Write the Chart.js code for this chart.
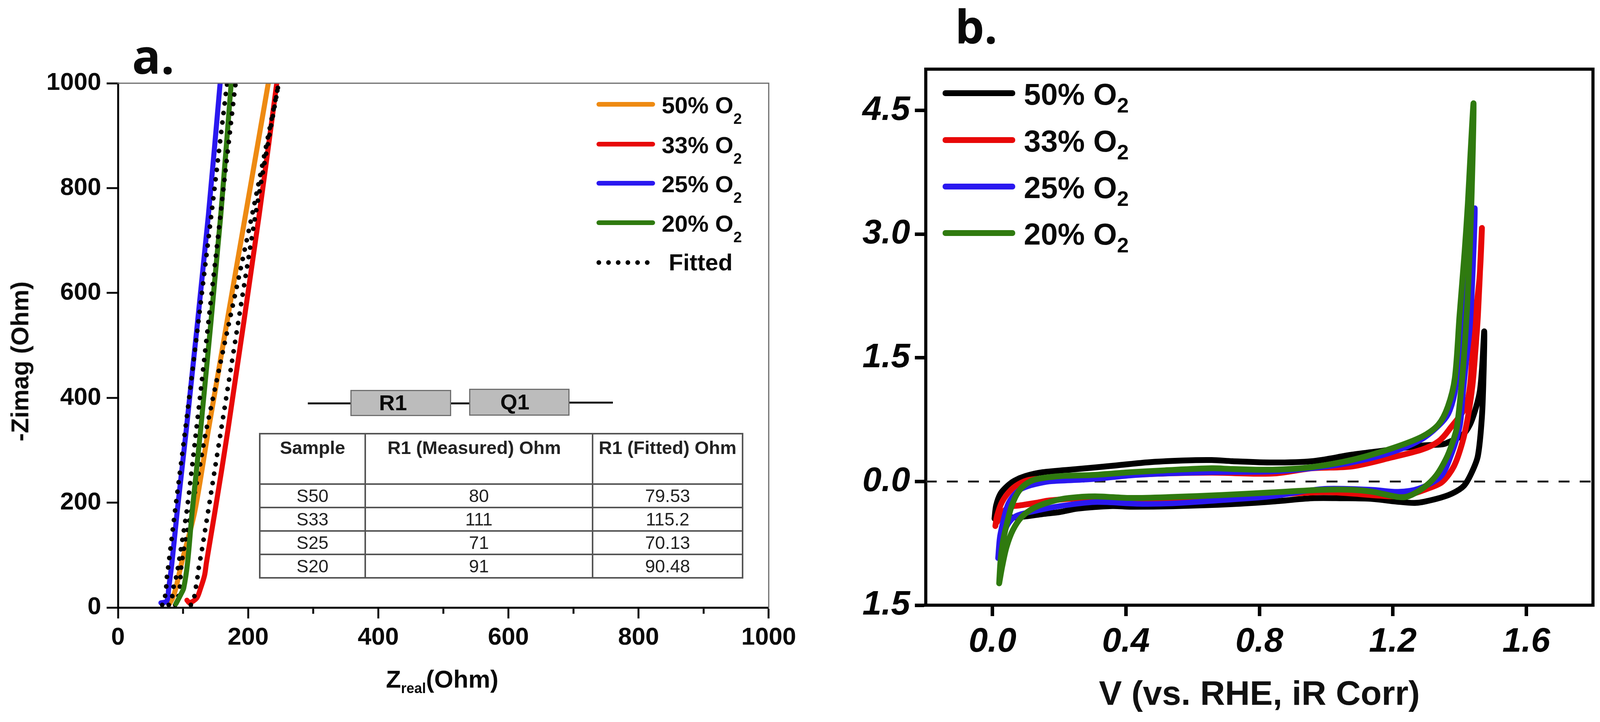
<!DOCTYPE html>
<html><head><meta charset="utf-8">
<style>
html,body{margin:0;padding:0;background:#fff;width:4099px;height:1848px;overflow:hidden;font-family:"Liberation Sans",Arial,sans-serif;color:#0a0a0a}
canvas{position:absolute;top:0}
.t{position:absolute;white-space:nowrap;line-height:1;font-weight:700;transform:translateY(-50%)}
.c{transform:translate(-50%,-50%)}
.t sub{line-height:0;vertical-align:baseline;position:relative}
.ln{position:absolute}
.box{position:absolute;background:#bcbcbc;border:3px solid #6f6f6f;box-sizing:border-box}
table{position:absolute;left:663px;top:1108px;width:1236px;border-collapse:collapse;table-layout:fixed;font-size:46px;color:#222}
td{border:4px solid #555;text-align:center;padding:0;overflow:visible;white-space:nowrap}
th{border:4px solid #555;padding:6px 0 0 0;vertical-align:top;font-size:47px;font-weight:700;white-space:nowrap;overflow:visible}
th span{position:relative}
</style>
<script src="https://cdn.jsdelivr.net/npm/chart.js@4"></script>
</head><body>
<canvas id="ca" width="2050" height="1848" style="left:0"></canvas>
<canvas id="cb" width="2049" height="1848" style="left:2050px"></canvas>
<div id="ov"></div>
<script>
// ---------- panel a : Nyquist data (Zreal, -Zimag) ----------
const orangeX=[79,84,89,98,118,139,196,231,232];
const orangeY=[7,18,37,86,183,339,749,1000,1010];
const redX=[106,110,121,127,133,136,149,169,217,244,245];
const redY=[14,9,18,37,61,86,183,339,749,1000,1010];
const blueX=[66,75,78,83,91,105,139,157,158];
const blueY=[9,12,37,86,183,339,749,1000,1010];
const greenX=[89,97,101,107,114,127,158,174,175];
const greenY=[7,26,37,86,183,339,749,1000,1010];
const orangeFitX=[88,92.5,95,96,97,101,124,135,207,246,247];
const orangeFitY=[5,19,37,56,75,110,257,335,754,993,1000];
const redFitX=[112,117,119.5,122,124,129,139,148,158,212,246,247];
const redFitY=[5,19,37,56,75,110,187,257,335,754,993,1000];
const blueFitX=[68,72,74,75,77,88,103,144,167,168];
const blueFitY=[5,19,37,56,75,187,335,754,993,1000];
const greenFitX=[78,83,85,89,92,106,120,158,180,181];
const greenFitY=[5,19,37,56,75,187,335,754,993,1000];
const xTicksA=[0,100,200,300,400,500,600,700,800,900,1000];
const xLabelledA=[0,200,400,600,800,1000];
const yTicksA=[0,200,400,600,800,1000];
// table
const tableHead=["Sample","R1 (Measured) Ohm","R1 (Fitted) Ohm"];
const tableSample=["S50","S33","S25","S20"];
const tableMeasured=["80","111","71","91"];
const tableFitted=["79.53","115.2","70.13","90.48"];
// ---------- panel b : CV data (V, current) ----------
const blackV=[0.006,0.011,0.024,0.045,0.066,0.098,0.150,0.255,0.359,0.464,0.569,0.657,0.719,0.839,0.958,1.078,1.168,1.288,1.348,1.365,1.408,1.431,1.449,1.461,1.468,1.474,1.472,1.467,1.455,1.436,1.413,1.377,1.33,1.27,1.21,1.138,1.048,0.958,0.839,0.719,0.54,0.412,0.359,0.255,0.202,0.150,0.098,0.05,0.01];
const blackI=[-0.45,-0.29,-0.147,-0.053,0.01,0.065,0.112,0.151,0.19,0.232,0.254,0.26,0.246,0.23,0.246,0.325,0.372,0.435,0.45,0.473,0.56,0.688,0.893,1.097,1.4,1.82,1.3,0.78,0.31,0.104,-0.053,-0.147,-0.211,-0.259,-0.243,-0.211,-0.203,-0.203,-0.243,-0.274,-0.3,-0.306,-0.298,-0.329,-0.37,-0.395,-0.424,-0.44,-0.46];
const redV=[0.0086,0.0138,0.029,0.056,0.087,0.118,0.255,0.412,0.516,0.657,0.839,0.958,1.078,1.198,1.288,1.336,1.368,1.423,1.443,1.46,1.467,1.455,1.447,1.439,1.425,1.408,1.383,1.348,1.306,1.246,1.198,1.0,0.8,0.5,0.3,0.17,0.13,0.082,0.05,0.03,0.012];
const redI=[-0.54,-0.416,-0.245,-0.1,-0.013,0.025,0.056,0.08,0.097,0.107,0.096,0.16,0.183,0.293,0.388,0.483,0.624,0.96,1.86,2.47,3.07,2.01,1.56,1.178,0.78,0.467,0.183,-0.006,-0.085,-0.164,-0.18,-0.13,-0.17,-0.22,-0.2,-0.23,-0.26,-0.29,-0.31,-0.38,-0.5];
const blueV=[0.0165,0.0217,0.032,0.045,0.061,0.082,0.108,0.14,0.176,0.291,0.412,0.516,0.657,0.839,0.958,1.078,1.198,1.288,1.348,1.371,1.389,1.405,1.42,1.435,1.446,1.439,1.431,1.42,1.41,1.401,1.374,1.343,1.278,1.216,1.138,0.988,0.839,0.689,0.54,0.4375,0.307,0.202,0.124,0.071,0.045,0.03,0.0165];
const blueI=[-0.93,-0.68,-0.479,-0.29,-0.18,-0.1,-0.055,-0.022,0.002,0.025,0.072,0.095,0.112,0.12,0.16,0.231,0.355,0.515,0.719,0.861,1.15,1.8,2.5,3.0,3.31,2.47,1.86,1.45,1.05,0.67,0.31,0.057,-0.085,-0.124,-0.1,-0.09,-0.18,-0.227,-0.266,-0.272,-0.25,-0.298,-0.361,-0.417,-0.526,-0.7,-0.93];
const greenV=[0.02,0.0243,0.032,0.045,0.058,0.0765,0.098,0.129,0.202,0.307,0.412,0.516,0.657,0.719,0.839,0.958,1.078,1.198,1.288,1.336,1.365,1.386,1.40,1.415,1.425,1.433,1.442,1.435,1.427,1.419,1.408,1.392,1.377,1.36,1.33,1.294,1.246,1.216,1.138,1.078,0.988,0.839,0.689,0.54,0.412,0.307,0.2285,0.176,0.124,0.087,0.061,0.042,0.029,0.02];
const greenI=[-1.235,-0.953,-0.716,-0.479,-0.29,-0.132,-0.038,0.025,0.065,0.08,0.112,0.135,0.16,0.151,0.143,0.175,0.262,0.403,0.545,0.687,0.908,1.255,2.01,2.77,3.37,3.98,4.58,3.31,2.47,1.86,1.26,0.657,0.45,0.278,0.072,-0.07,-0.18,-0.188,-0.124,-0.101,-0.101,-0.132,-0.164,-0.188,-0.2,-0.18,-0.2,-0.243,-0.322,-0.432,-0.59,-0.795,-1.03,-1.235];
const zeroV=[-0.2,1.8];
const zeroI=[0,0];
const xTicksB=[0,0.4,0.8,1.2,1.6];
const yTicksB=[-1.5,0,1.5,3,4.5];
const legendNames=["50% O","33% O","25% O","20% O"];

const ORANGE="#ee8a12",RED="#e80808",BLUE="#2a18f0",GREEN="#2f7a0f",BLACK="#000";
const pts=(xs,ys)=>xs.map((x,i)=>({x,y:ys[i]}));
const FONT='"Liberation Sans", Arial, sans-serif';

// frame plugin: draws the sides Chart.js scales don't, from the chart area
const frame={id:'frame',afterDraw(c,_,o){const a=c.chartArea,g=c.ctx;g.save();g.strokeStyle=o.color;g.lineWidth=o.width;g.lineCap='square';
 g.beginPath();g.moveTo(a.left,a.top);g.lineTo(a.right,a.top);g.lineTo(a.right,a.bottom);g.stroke();
 if(o.minor){const s=c.scales.x;g.strokeStyle='#111';g.lineWidth=5;g.lineCap='butt';
  o.minor.forEach(v=>{const p=s.getPixelForValue(v);g.beginPath();g.moveTo(p,a.bottom);g.lineTo(p,a.bottom+o.minorLen);g.stroke();});}
 g.restore();}};
const fixTicks=list=>s=>{s.ticks=list.map(v=>({value:v}));};

function solid(data,color,w,n){return {data,borderColor:color,borderWidth:w,pointRadius:0,showLine:true,order:n,borderCapStyle:'round',borderJoinStyle:'round',tension:0.3};}
function dotted(data,n){return {data,borderColor:'#000',borderWidth:12,pointRadius:0,showLine:true,order:n,borderCapStyle:'round',borderDash:[0.01,24.4],tension:0.2};}

new Chart(document.getElementById('ca'),{type:'scatter',plugins:[frame],
 data:{datasets:[
  solid(pts(orangeX,orangeY),ORANGE,13,8),
  solid(pts(redX,redY),RED,13,7),
  dotted(pts(orangeFitX,orangeFitY),6),
  dotted(pts(redFitX,redFitY),5),
  solid(pts(blueX,blueY),BLUE,13,4),
  dotted(pts(blueFitX,blueFitY),3),
  solid(pts(greenX,greenY),GREEN,13,2),
  dotted(pts(greenFitX,greenFitY),1)
 ]},
 options:{responsive:false,animation:false,devicePixelRatio:1,
  layout:{padding:{top:213,right:82,left:0,bottom:0}},
  plugins:{legend:{display:false},tooltip:{enabled:false},frame:{color:'#6b6b6b',width:3,minor:xTicksA.filter(v=>!xLabelledA.includes(v)),minorLen:16}},
  scales:{
   x:{type:'linear',min:0,max:1000,afterFit:s=>{s.height=293;},afterBuildTicks:fixTicks(xLabelledA),
    border:{display:true,color:'#000',width:5},
    grid:{drawOnChartArea:false,tickLength:28,tickWidth:5,tickColor:'#111'},
    ticks:{maxRotation:0,autoSkip:false,color:'#0a0a0a',padding:12,callback:v=>String(v),font:{family:FONT,size:63,weight:'bold'}}},
   y:{type:'linear',min:0,max:1000,afterFit:s=>{s.width=302;},afterBuildTicks:fixTicks(yTicksA),
    border:{display:true,color:'#000',width:5},
    grid:{drawOnChartArea:false,tickLength:29,tickWidth:5,tickColor:'#111'},
    ticks:{autoSkip:false,color:'#0a0a0a',padding:14,callback:v=>String(v),font:{family:FONT,size:63,weight:'bold'}}}
  }}});

new Chart(document.getElementById('cb'),{type:'scatter',plugins:[frame],
 data:{datasets:[
  {data:pts(zeroV,zeroI),borderColor:'#222',borderWidth:5,pointRadius:0,showLine:true,order:5,borderDash:[28,26]},
  solid(pts(blackV,blackI),BLACK,15,4),
  solid(pts(redV,redI),RED,15,3),
  solid(pts(blueV,blueI),BLUE,14,2),
  solid(pts(greenV,greenI),GREEN,15,1)
 ]},
 options:{responsive:false,animation:false,devicePixelRatio:1,
  layout:{padding:{top:177,right:21,left:0,bottom:0}},
  plugins:{legend:{display:false},tooltip:{enabled:false},frame:{color:'#000',width:8}},
  scales:{
   x:{type:'linear',min:-0.2,max:1.8,afterFit:s=>{s.height=299;},afterBuildTicks:fixTicks(xTicksB),
    border:{display:true,color:'#000',width:8},
    grid:{drawOnChartArea:false,tickLength:28,tickWidth:9,tickColor:'#000'},
    title:{display:true,text:'V (vs. RHE, iR Corr)',color:'#111',font:{family:FONT,size:88,weight:'bold'},padding:{top:0,bottom:15}},
    ticks:{maxRotation:0,autoSkip:false,color:'#050505',padding:14,callback:v=>v.toFixed(1),font:{family:FONT,size:88,weight:'bold',style:'italic'}}},
   y:{type:'linear',min:-1.5,max:5,afterFit:s=>{s.width=320;},afterBuildTicks:fixTicks(yTicksB),
    border:{display:true,color:'#000',width:8},
    grid:{drawOnChartArea:false,tickLength:28,tickWidth:9,tickColor:'#000'},
    ticks:{autoSkip:false,color:'#050505',padding:12,callback:v=>Math.abs(v).toFixed(1),font:{family:FONT,size:88,weight:'bold',style:'italic'}}}
  }}});

// ---------- overlay text & furniture ----------
const ov=document.getElementById('ov');
function add(html){ov.insertAdjacentHTML('beforeend',html);}
function line(x,y,w,h,color,r){add(`<div class="ln" style="left:${x}px;top:${y-h/2}px;width:${w}px;height:${h}px;background:${color};border-radius:${r||0}px"></div>`);}

add(`<div class="t" style="left:338px;top:142px;font-family:'Open Sans';font-size:122px;font-weight:700">a.</div>`);
add(`<div class="t" style="left:2445px;top:66px;font-family:'Open Sans';font-size:118px;font-weight:700">b.</div>`);
add(`<div class="t c" style="left:51px;top:925px;font-size:63px;transform:translate(-50%,-50%) rotate(-90deg)">-Zimag (Ohm)</div>`);
add(`<div class="t" style="left:988px;top:1738px;font-size:63px">Z<sub style="font-size:36px;top:14px">real</sub>(Ohm)</div>`);

// panel a legend
[ORANGE,RED,BLUE,GREEN].forEach((col,i)=>{
  const y=[267,369,469,570][i];
  line(1527,y,150,12,col,6);
  add(`<div class="t" style="left:1694px;top:${y+3}px;font-size:60px">${legendNames[i]}<sub style="font-size:39px;top:27px">2</sub></div>`);
});
add(`<div class="ln" style="left:1527px;top:666px;width:136px;height:0;border-top:12px dotted #000"></div>`);
add(`<div class="t" style="left:1712px;top:672px;font-size:60px">Fitted</div>`);

// panel b legend
[BLACK,RED,BLUE,GREEN].forEach((col,i)=>{
  const y=[238,358,477,596][i];
  line(2413,y,186,15,col,7);
  add(`<div class="t" style="left:2621px;top:${y+3}px;font-size:78px">${legendNames[i]}<sub style="font-size:54px;top:20px">2</sub></div>`);
});

// equivalent circuit
line(788,1032,109,5,'#111');line(1155,1032,46,5,'#111');line(1458,1030,111,5,'#111');
add(`<div class="box" style="left:897px;top:998px;width:258px;height:67px"></div>`);
add(`<div class="box" style="left:1201px;top:995px;width:257px;height:69px"></div>`);
add(`<div class="t c" style="left:1006px;top:1031px;font-size:56px">R1</div>`);
add(`<div class="t c" style="left:1318px;top:1029px;font-size:56px">Q1</div>`);

// table
let rows=`<colgroup><col style="width:270px"><col style="width:582px"><col style="width:384px"></colgroup>`;
rows+=`<tr style="height:129px"><th>${tableHead[0]}</th><th><span style="left:-12px">${tableHead[1]}</span></th><th>${tableHead[2]}</th></tr>`;
tableSample.forEach((s,i)=>{rows+=`<tr style="height:60px"><td>${s}</td><td>${tableMeasured[i]}</td><td>${tableFitted[i]}</td></tr>`;});
add(`<table>${rows}</table>`);
</script>
</body></html>
